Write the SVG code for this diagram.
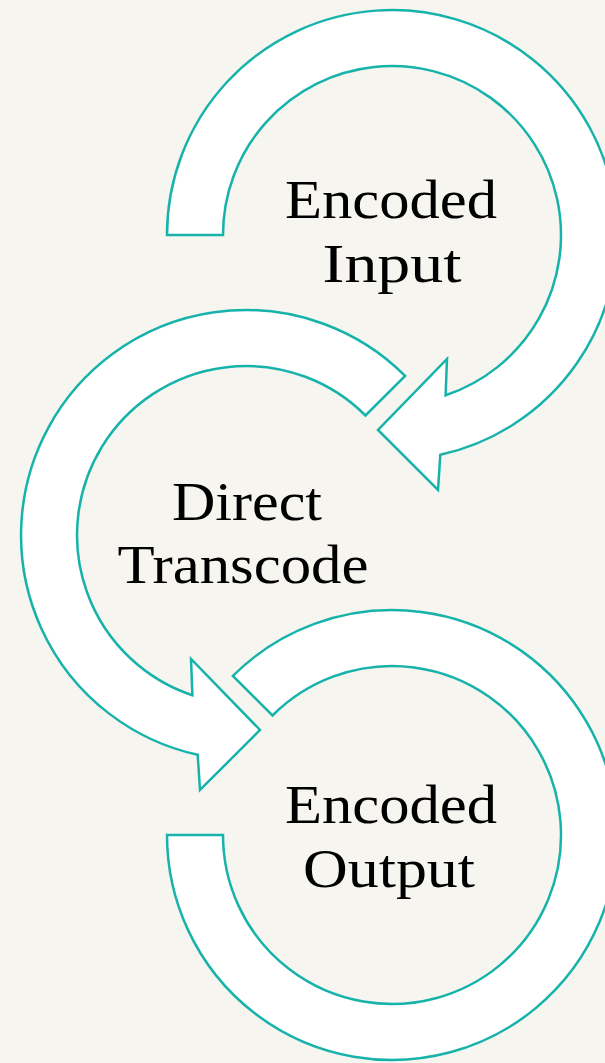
<svg xmlns="http://www.w3.org/2000/svg" width="605" height="1063" viewBox="0 0 605 1063">
<style>
.arc{fill:#ffffff;stroke:#17b3ab;stroke-width:2.5;stroke-linejoin:miter}
.lbl{font-family:"Liberation Serif","Times New Roman",serif;font-size:55px;fill:#000000;text-anchor:middle}
</style>
<rect x="0" y="0" width="605" height="1063" fill="#f7f5f0"/>
<g id="connectors"></g>
<g id="node-bottom">
<path class="arc" d="M167,835 A225,225 0 1 0 232.9,675.9 L272.5,715.5 A169,169 0 1 1 223,835 Z"/>
<text class="lbl" x="391" y="823" textLength="212" lengthAdjust="spacingAndGlyphs">Encoded</text>
<text class="lbl" x="389" y="887" textLength="172" lengthAdjust="spacingAndGlyphs">Output</text>
</g>
<g id="node-middle">
<path class="arc" d="M405.1,375.9 A225,225 0 1 0 197.7,754.8 L200,790 L260,730 L191,659 L192.4,695.3 A169,169 0 1 1 365.5,415.5 Z"/>
<text class="lbl" x="247" y="520" textLength="150" lengthAdjust="spacingAndGlyphs">Direct</text>
<text class="lbl" x="243" y="583" textLength="251" lengthAdjust="spacingAndGlyphs">Transcode</text>
</g>
<g id="node-top">
<path class="arc" d="M167,235 A225,225 0 1 1 440.3,454.8 L438,490 L378,430 L447,359 L445.6,395.3 A169,169 0 1 0 223,235 Z"/>
<text class="lbl" x="391" y="218" textLength="212" lengthAdjust="spacingAndGlyphs">Encoded</text>
<text class="lbl" x="392" y="282" textLength="139" lengthAdjust="spacingAndGlyphs">Input</text>
</g>
</svg>
